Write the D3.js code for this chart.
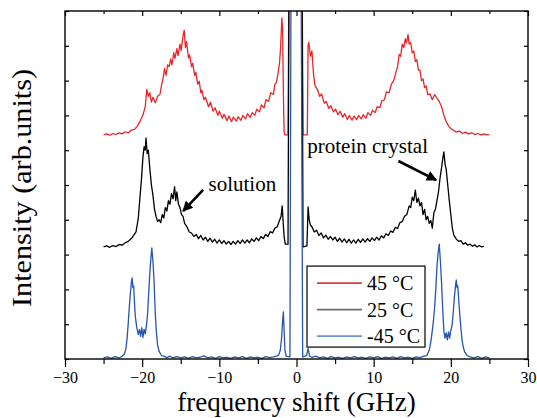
<!DOCTYPE html>
<html>
<head>
<meta charset="utf-8">
<script src="https://cdn.jsdelivr.net/npm/d3@7"></script>
<style>
body { margin: 0; background: #fff; }
text { font-family: "Liberation Serif", "Times New Roman", serif; }
</style>
</head>
<body>
<div id="chart"></div>
<script>
// svg params
var svgWidth = 537;
var svgHeight = 418;
var margin = { top: 11, right: 9, bottom: 59, left: 65 };
var chartWidth = svgWidth - margin.left - margin.right;
var chartHeight = svgHeight - margin.top - margin.bottom;

// spectra: [frequency shift GHz, intensity (offset)]
var spec45 = [[-25.0,6.44],[-24.6,6.47],[-24.2,6.43],[-23.8,6.48],[-23.4,6.45],[-23.0,6.50],[-22.6,6.47],[-22.2,6.53],[-21.8,6.50],[-21.4,6.58],[-21.0,6.60],[-20.6,6.70],[-20.3,6.82],[-19.9,7.01],[-19.6,7.25],[-19.4,7.75],[-19.2,7.55],[-19.0,7.65],[-18.8,7.38],[-18.6,7.52],[-18.3,7.36],[-18.0,7.55],[-17.7,7.60],[-17.5,7.85],[-17.3,8.05],[-17.1,8.35],[-16.9,8.15],[-16.7,8.45],[-16.5,8.40],[-16.3,8.62],[-16.15,8.45],[-15.9,8.80],[-15.75,8.64],[-15.5,8.92],[-15.35,8.72],[-15.1,9.05],[-14.95,8.86],[-14.7,9.30],[-14.55,9.45],[-14.4,8.95],[-14.25,9.12],[-14.0,8.65],[-13.85,8.74],[-13.6,8.40],[-13.45,8.50],[-13.2,8.15],[-13.05,8.24],[-12.8,7.90],[-12.6,7.98],[-12.4,7.65],[-12.25,7.72],[-12.0,7.45],[-11.8,7.52],[-11.4,7.25],[-11.15,7.38],[-10.8,7.12],[-10.55,7.22],[-10.2,7.00],[-10.0,7.12],[-9.6,6.92],[-9.4,7.03],[-9.0,6.85],[-8.75,6.98],[-8.4,6.82],[-8.2,6.95],[-7.8,6.84],[-7.55,6.96],[-7.2,6.86],[-6.95,7.00],[-6.6,6.90],[-6.35,7.05],[-6.0,6.94],[-5.75,7.08],[-5.4,7.00],[-5.15,7.18],[-4.8,7.10],[-4.55,7.30],[-4.2,7.22],[-3.95,7.45],[-3.6,7.40],[-3.35,7.65],[-3.0,7.60],[-2.8,7.90],[-2.6,7.95],[-2.4,8.20],[-2.2,8.50],[-2.05,9.00],[-1.9,9.80],[-1.8,9.50],[-1.7,7.60],[-1.6,6.50],[-1.5,6.44],[-1.1,6.44],[-0.95,12],[0,14],[0.7,12],[0.85,6.44],[1.4,6.44],[1.5,9.02],[1.6,9.10],[1.8,8.70],[2.0,8.85],[2.2,8.20],[2.4,7.85],[2.7,7.75],[3.0,7.55],[3.25,7.62],[3.6,7.35],[3.85,7.40],[4.2,7.20],[4.45,7.28],[4.8,7.10],[5.05,7.18],[5.4,7.02],[5.65,7.12],[6.0,6.95],[6.25,7.05],[6.6,6.88],[6.85,7.00],[7.2,6.86],[7.45,6.98],[7.8,6.88],[8.05,7.00],[8.4,6.90],[8.65,7.02],[9.0,6.92],[9.25,7.08],[9.6,7.00],[9.85,7.15],[10.2,7.08],[10.45,7.25],[10.8,7.22],[11.05,7.42],[11.4,7.45],[11.65,7.68],[12.0,7.65],[12.3,7.90],[12.6,8.00],[12.9,8.25],[13.1,8.40],[13.3,8.75],[13.5,8.70],[13.7,9.05],[13.9,8.95],[14.1,9.20],[14.25,9.08],[14.45,9.32],[14.6,9.05],[14.8,9.10],[15.0,8.80],[15.2,8.85],[15.4,8.55],[15.6,8.60],[15.8,8.30],[16.0,8.30],[16.2,8.00],[16.4,8.05],[16.6,7.80],[16.8,7.85],[17.0,7.60],[17.3,7.62],[17.6,7.45],[17.9,7.60],[18.2,7.50],[18.5,7.40],[18.8,7.25],[19.1,7.00],[19.4,6.82],[19.7,6.70],[20.0,6.62],[20.3,6.58],[20.7,6.52],[21.1,6.55],[21.5,6.48],[21.9,6.52],[22.3,6.47],[22.7,6.50],[23.1,6.45],[23.5,6.48],[23.9,6.44],[24.3,6.47],[24.7,6.44],[25.0,6.45]];

var spec25 = [[-25.0,3.22],[-24.6,3.25],[-24.2,3.21],[-23.8,3.26],[-23.4,3.23],[-23.0,3.29],[-22.6,3.27],[-22.2,3.34],[-21.8,3.38],[-21.4,3.46],[-21.1,3.55],[-20.8,3.65],[-20.5,4.05],[-20.3,4.60],[-20.1,5.14],[-19.9,5.80],[-19.75,6.10],[-19.6,6.00],[-19.5,6.35],[-19.35,5.90],[-19.2,6.00],[-19.0,5.45],[-18.8,5.00],[-18.6,4.70],[-18.4,4.30],[-18.2,4.10],[-18.0,3.95],[-17.8,4.00],[-17.6,3.92],[-17.4,4.15],[-17.2,4.05],[-17.0,4.35],[-16.8,4.25],[-16.6,4.55],[-16.4,4.45],[-16.2,4.75],[-16.0,4.60],[-15.8,4.95],[-15.65,4.55],[-15.5,4.80],[-15.3,4.45],[-15.1,4.35],[-14.9,4.15],[-14.7,4.10],[-14.5,3.90],[-14.2,3.80],[-13.9,3.65],[-13.6,3.62],[-13.3,3.52],[-13.0,3.58],[-12.7,3.46],[-12.4,3.55],[-12.1,3.42],[-11.8,3.50],[-11.5,3.38],[-11.2,3.47],[-10.9,3.36],[-10.6,3.44],[-10.3,3.33],[-10.0,3.42],[-9.7,3.32],[-9.4,3.40],[-9.1,3.30],[-8.8,3.38],[-8.5,3.29],[-8.2,3.38],[-7.9,3.30],[-7.6,3.40],[-7.3,3.32],[-7.0,3.42],[-6.7,3.33],[-6.4,3.42],[-6.1,3.34],[-5.8,3.45],[-5.5,3.38],[-5.2,3.48],[-4.9,3.40],[-4.6,3.52],[-4.3,3.46],[-4.0,3.58],[-3.7,3.52],[-3.4,3.66],[-3.1,3.62],[-2.8,3.76],[-2.5,3.80],[-2.2,3.98],[-2.0,4.10],[-1.85,4.40],[-1.75,4.00],[-1.6,3.50],[-1.45,3.30],[-1.1,3.30],[-0.95,12],[0,14],[0.7,12],[0.85,3.22],[1.35,3.25],[1.5,4.37],[1.65,4.00],[1.8,3.85],[2.0,3.80],[2.3,3.65],[2.6,3.70],[2.9,3.55],[3.2,3.62],[3.5,3.48],[3.8,3.56],[4.1,3.44],[4.4,3.52],[4.7,3.42],[5.0,3.50],[5.3,3.38],[5.6,3.47],[5.9,3.36],[6.2,3.45],[6.5,3.34],[6.8,3.44],[7.1,3.33],[7.4,3.42],[7.7,3.33],[8.0,3.44],[8.3,3.35],[8.6,3.45],[8.9,3.36],[9.2,3.46],[9.5,3.38],[9.8,3.48],[10.1,3.40],[10.4,3.50],[10.7,3.42],[11.0,3.54],[11.3,3.48],[11.6,3.60],[11.9,3.55],[12.2,3.68],[12.5,3.64],[12.8,3.78],[13.1,3.75],[13.4,3.92],[13.7,3.95],[14.0,4.10],[14.3,4.15],[14.6,4.40],[14.8,4.35],[15.0,4.65],[15.2,4.55],[15.4,4.85],[15.6,4.50],[15.8,4.62],[16.0,4.40],[16.2,4.50],[16.4,4.15],[16.6,4.30],[16.8,4.00],[17.0,4.10],[17.2,3.90],[17.4,3.98],[17.6,3.76],[17.8,4.20],[18.0,4.30],[18.2,4.55],[18.4,4.80],[18.6,5.20],[18.8,5.50],[18.95,5.75],[19.1,5.95],[19.25,5.60],[19.4,5.45],[19.6,5.00],[19.8,4.55],[20.0,4.15],[20.2,3.75],[20.4,3.55],[20.7,3.45],[21.0,3.38],[21.3,3.40],[21.6,3.30],[21.9,3.34],[22.2,3.27],[22.5,3.30],[22.8,3.24],[23.1,3.28],[23.4,3.22],[23.7,3.26],[24.0,3.22],[24.3,3.24]];

var specM45 = [[-25.0,0.03],[-24.5,0.06],[-24.0,0.02],[-23.5,0.07],[-23.0,0.03],[-22.6,0.08],[-22.3,0.15],[-22.1,0.30],[-21.95,0.60],[-21.8,1.05],[-21.65,1.55],[-21.5,1.95],[-21.4,2.20],[-21.3,2.33],[-21.2,2.05],[-21.1,2.10],[-21.0,1.65],[-20.9,1.25],[-20.7,0.90],[-20.5,0.70],[-20.35,0.85],[-20.2,0.65],[-20.05,0.90],[-19.9,0.62],[-19.75,0.85],[-19.6,0.72],[-19.45,0.95],[-19.3,1.30],[-19.15,1.90],[-19.0,2.50],[-18.85,2.95],[-18.75,3.19],[-18.6,2.80],[-18.45,2.20],[-18.3,1.30],[-18.15,0.75],[-18.0,0.40],[-17.8,0.22],[-17.5,0.10],[-17.2,0.08],[-16.8,0.04],[-16.4,0.08],[-16.0,0.03],[-15.5,0.07],[-15.0,0.03],[-14.5,0.06],[-14.0,0.02],[-13.5,0.07],[-13.0,0.03],[-12.5,0.05],[-12.0,0.09],[-11.5,0.03],[-11.0,0.06],[-10.5,0.02],[-10.0,0.07],[-9.5,0.03],[-9.0,0.05],[-8.5,0.02],[-8.0,0.06],[-7.5,0.03],[-7.0,0.07],[-6.5,0.02],[-6.0,0.06],[-5.5,0.03],[-5.0,0.05],[-4.5,0.02],[-4.0,0.07],[-3.5,0.04],[-3.0,0.06],[-2.6,0.08],[-2.3,0.12],[-2.1,0.25],[-1.95,0.55],[-1.8,1.10],[-1.7,1.35],[-1.6,0.80],[-1.5,0.25],[-1.35,0.08],[-0.85,0.06],[-0.7,12],[0,14],[0.58,12],[0.8,0.06],[1.3,0.10],[1.5,0.30],[1.7,0.08],[2.0,0.05],[2.5,0.08],[3.0,0.03],[3.5,0.06],[4.0,0.02],[4.5,0.07],[5.0,0.03],[5.5,0.05],[6.0,0.02],[6.5,0.06],[7.0,0.03],[7.5,0.07],[8.0,0.03],[8.5,0.05],[9.0,0.02],[9.5,0.06],[10.0,0.03],[10.5,0.07],[11.0,0.02],[11.5,0.05],[12.0,0.03],[12.5,0.06],[13.0,0.02],[13.5,0.07],[14.0,0.03],[14.5,0.05],[15.0,0.02],[15.5,0.06],[16.0,0.04],[16.5,0.08],[16.9,0.10],[17.2,0.25],[17.45,0.55],[17.7,1.00],[17.9,1.49],[18.05,2.00],[18.2,2.64],[18.35,3.05],[18.5,3.30],[18.65,2.80],[18.8,2.18],[18.95,1.40],[19.1,0.80],[19.25,0.60],[19.4,0.75],[19.55,0.55],[19.7,0.78],[19.85,0.60],[20.0,0.82],[20.15,0.95],[20.3,1.30],[20.45,1.75],[20.6,2.10],[20.7,2.27],[20.8,2.05],[20.9,2.10],[21.0,1.78],[21.15,1.30],[21.3,0.90],[21.45,0.55],[21.6,0.35],[21.8,0.20],[22.1,0.10],[22.5,0.06],[23.0,0.03],[23.5,0.07],[24.0,0.02],[24.5,0.06],[25.0,0.03]];

var seriesNames = ["45 \u00B0C", "25 \u00B0C", "-45 \u00B0C"];
var seriesData = [spec45, spec25, specM45];
var lineColors = ["#e8262a", "#000000", "#2656aa"];
var legendColors = ["#e03a3a", "#6e6e6e", "#6f92d2"];

var xMajor = [-30, -20, -10, 0, 10, 20, 30];
var xMinor = [-25, -15, -5, 5, 15, 25];
var yTicks = [0, 1, 2, 3, 4, 5, 6, 7, 8, 9, 10];

// annotations: [text, text x, text y, arrow tail x, tail y, tip x, tip y] (data units)
var notes = [
  ["solution", -11.4, 4.83, -12.1, 4.86, -14.7, 4.25],
  ["protein crystal", 1.4, 5.92, 13.2, 5.69, 18.1, 5.14]
];

var svg = d3.select("#chart").append("svg")
  .attr("width", svgWidth)
  .attr("height", svgHeight);

var chartGroup = svg.append("g")
  .attr("transform", `translate(${margin.left}, ${margin.top})`);

var xScale = d3.scaleLinear().domain([-30, 30]).range([0, chartWidth]);
var yScale = d3.scaleLinear().domain([0, 10]).range([chartHeight, 0]);

svg.append("defs").append("clipPath").attr("id", "plotclip")
  .append("rect").attr("width", chartWidth).attr("height", chartHeight);

svg.select("defs").append("marker")
  .attr("id", "arrowhead")
  .attr("viewBox", "0 0 10 10")
  .attr("refX", 9).attr("refY", 5)
  .attr("markerWidth", 4.5).attr("markerHeight", 4)
  .attr("markerUnits", "strokeWidth")
  .attr("orient", "auto")
  .append("path").attr("d", "M0,0 L10,5 L0,10 z").attr("fill", "#000");

// spectra
var line = d3.line().x(d => xScale(d[0])).y(d => yScale(d[1]));
var traces = chartGroup.append("g").attr("clip-path", "url(#plotclip)");
seriesData.forEach((s, i) => {
  traces.append("path")
    .datum(s)
    .attr("d", line)
    .attr("fill", "none")
    .attr("stroke", lineColors[i])
    .attr("stroke-width", 1.3)
    .attr("stroke-linejoin", "round");
});

// axes
function styleAxis(g) {
  g.select(".domain").remove();
  g.selectAll("line").attr("stroke", "#000").attr("stroke-width", 1.2);
  g.selectAll("text").attr("font-size", "16px").attr("fill", "#000")
    .style("font-family", "'Liberation Serif', 'Times New Roman', serif");
}
chartGroup.append("g").attr("transform", `translate(0, ${chartHeight})`)
  .call(d3.axisBottom(xScale).tickValues(xMajor).tickSize(8).tickPadding(5).tickFormat(d3.format("d")))
  .call(styleAxis);
chartGroup.append("g").attr("transform", `translate(0, ${chartHeight})`)
  .call(d3.axisBottom(xScale).tickValues(xMinor).tickSize(5).tickFormat(""))
  .call(styleAxis);
chartGroup.append("g")
  .call(d3.axisTop(xScale).tickValues(xMajor).tickSize(-5).tickFormat(""))
  .call(styleAxis);
chartGroup.append("g")
  .call(d3.axisTop(xScale).tickValues(xMinor).tickSize(-3).tickFormat(""))
  .call(styleAxis);
chartGroup.append("g")
  .call(d3.axisLeft(yScale).tickValues(yTicks).tickSize(-4).tickFormat(""))
  .call(styleAxis);
chartGroup.append("g").attr("transform", `translate(${chartWidth}, 0)`)
  .call(d3.axisRight(yScale).tickValues(yTicks).tickSize(-4).tickFormat(""))
  .call(styleAxis);

chartGroup.append("rect")
  .attr("width", chartWidth).attr("height", chartHeight)
  .attr("fill", "none").attr("stroke", "#000").attr("stroke-width", 1.4);

// axis titles
chartGroup.append("text")
  .attr("transform", `translate(${chartWidth / 2}, ${chartHeight + 52})`)
  .attr("text-anchor", "middle")
  .attr("font-size", "27px")
  .text("frequency shift (GHz)");
chartGroup.append("text")
  .attr("transform", "rotate(-90)")
  .attr("x", -(chartHeight / 2) - 3)
  .attr("y", -34)
  .attr("text-anchor", "middle")
  .attr("font-size", "28px")
  .attr("textLength", 238)
  .attr("lengthAdjust", "spacingAndGlyphs")
  .text("Intensity (arb.units)");

// annotations
notes.forEach(n => {
  chartGroup.append("text")
    .attr("x", xScale(n[1])).attr("y", yScale(n[2]))
    .attr("font-size", "21px")
    .text(n[0]);
  chartGroup.append("line")
    .attr("x1", xScale(n[3])).attr("y1", yScale(n[4]))
    .attr("x2", xScale(n[5])).attr("y2", yScale(n[6]))
    .attr("stroke", "#000").attr("stroke-width", 2.6)
    .attr("marker-end", "url(#arrowhead)");
});

// legend
var legX = xScale(1.36), legY = yScale(2.67);
var legend = chartGroup.append("g").attr("transform", `translate(${legX}, ${legY})`);
legend.append("rect")
  .attr("width", 118).attr("height", 81)
  .attr("fill", "#fff").attr("stroke", "#000").attr("stroke-width", 1.2);
seriesNames.forEach((name, i) => {
  var ly = 17 + i * 26.5;
  legend.append("line")
    .attr("x1", 10).attr("x2", 55).attr("y1", ly).attr("y2", ly)
    .attr("stroke", legendColors[i]).attr("stroke-width", 1.6);
  legend.append("text")
    .attr("x", 60).attr("y", ly + 7)
    .attr("font-size", "20px")
    .text(name);
});
</script>
</body>
</html>
